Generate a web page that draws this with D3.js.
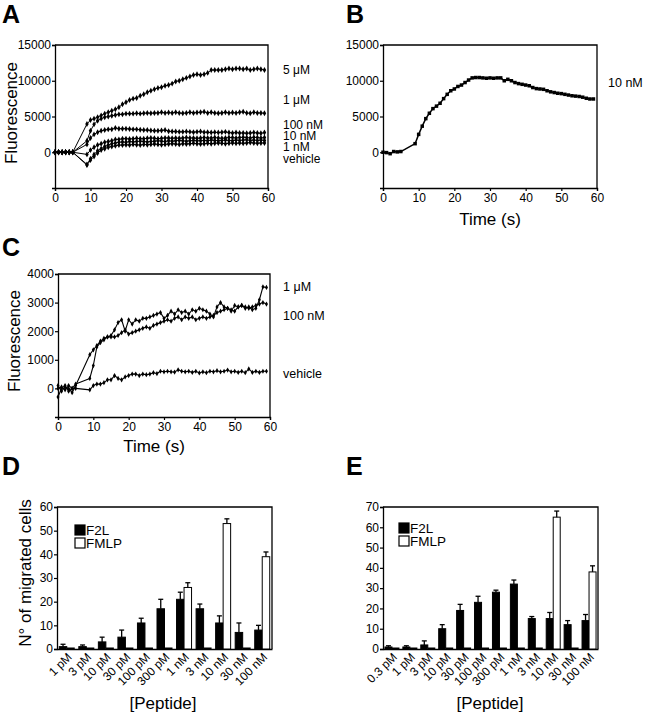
<!DOCTYPE html>
<html><head><meta charset="utf-8">
<script src="https://cdn.jsdelivr.net/npm/d3@7"></script>
<style>
html,body{margin:0;padding:0;background:#fff;}
svg{display:block;font-family:"Liberation Sans",Arial,Helvetica,sans-serif;}
</style></head>
<body>
<svg id="c" width="645" height="719"></svg>
<script>
// ---------- DATA ----------
const timeS = [0,1,2,3,4,5,9,10,11,12,13,14,15,16,17,18,19,20,21,22,23,24,25,26,27,28,29,30,31,32,33,34,35,36,37,38,39,40,41,42,43,44,45,46,47,48,49,50,51,52,53,54,55,56,57,58,59];

// Panel A (fluorescence, several doses)
const A_5uM = [0,0,0,0,0,0,3950,4500,4700,4900,5150,5400,5600,5800,6000,6300,6700,7000,7300,7500,7600,7900,8100,8400,8600,8800,9000,9100,9300,9400,9600,9900,10000,10200,10400,10600,10800,10900,10800,10900,11100,11500,11500,11500,11500,11600,11700,11600,11700,11700,11600,11700,11500,11600,11700,11600,11500];
const A_1uM = [0,0,0,0,0,0,1600,3000,3900,4400,4700,4900,5000,5100,5200,5300,5300,5400,5400,5400,5450,5400,5450,5500,5450,5500,5500,5600,5500,5550,5500,5600,5500,5450,5500,5600,5500,5550,5600,5650,5500,5600,5500,5450,5500,5600,5500,5550,5500,5600,5650,5500,5450,5600,5500,5500,5450];
const A_100nM = [0,0,0,0,0,0,1100,2000,2500,2800,3000,3100,3200,3200,3400,3300,3300,3300,3250,3200,3200,3150,3100,3100,3050,3000,3000,3050,3100,2950,2900,2900,2850,2850,2900,2850,2800,2850,2900,2800,2800,2750,2800,2750,2800,2850,2750,2700,2750,2700,2700,2650,2700,2750,2700,2650,2750];
const A_10nM = [0,0,0,0,0,0,-300,300,700,1000,1200,1400,1500,1600,1800,1800,1900,1900,1850,1900,1950,1900,1900,1950,2000,1950,1900,1950,2000,2000,1950,2000,1950,2000,2050,2000,2000,1950,2000,2050,2000,2000,2050,2000,1950,2000,2050,2050,2000,2050,2100,2050,2000,2100,2050,2000,2050];
const A_1nM = [0,0,0,0,0,0,-1700,-900,-300,200,500,800,1000,1200,1300,1400,1450,1400,1500,1450,1500,1550,1500,1450,1500,1550,1600,1550,1500,1600,1550,1600,1650,1600,1550,1600,1650,1600,1600,1650,1600,1700,1650,1600,1650,1700,1650,1600,1700,1650,1700,1750,1650,1700,1650,1700,1650];
const A_vehicle = [0,0,0,0,0,0,-1800,-1100,-600,-100,300,500,700,800,900,1000,1000,1050,1000,1100,1050,1000,1100,1050,1100,1150,1100,1050,1100,1150,1200,1150,1100,1200,1150,1200,1250,1200,1150,1200,1250,1200,1250,1300,1250,1200,1250,1300,1250,1300,1250,1300,1350,1300,1250,1300,1300];
const A_labels = ["5 μM","1 μM","100 nM","10 nM","1 nM","vehicle"];

// Panel B
const B_10nM = [0,-50,-200,100,50,100,1200,2500,3650,4700,5450,6100,6450,6850,7500,8100,8600,8850,9200,9400,9750,10100,10400,10450,10450,10400,10350,10400,10350,10400,10400,10000,10200,10000,9750,9600,9500,9400,9300,9050,8900,8850,8800,8600,8450,8350,8250,8200,8100,8000,7900,7850,7800,7700,7550,7450,7450];
const B_labels = ["10 nM"];

// Panel C
const C_1uM = [100,-100,50,0,-150,100,1180,1350,1500,1650,1750,1800,1850,2050,2300,2400,2000,2400,2250,2400,2350,2450,2450,2500,2550,2600,2650,2450,2550,2700,2600,2750,2650,2700,2600,2750,2700,2800,2750,2700,2600,2500,2850,3000,2850,2800,2750,2700,2850,2900,2800,2850,2750,2800,3100,3550,3530];
const C_100nM = [-300,0,100,-100,0,150,350,800,1450,1600,1700,1800,1800,1800,1850,1950,2050,1900,1950,2000,2050,2100,2150,2100,2200,2250,2300,2350,2400,2350,2450,2500,2400,2500,2450,2500,2400,2450,2500,2450,2500,2550,2650,2700,2750,2800,2700,2900,2850,2900,2850,2800,2850,2900,2950,3000,2950];
const C_vehicle = [0,50,-50,100,0,0,-50,100,150,150,200,300,300,450,350,300,400,450,500,500,450,500,480,500,550,520,600,580,600,580,570,650,600,580,600,560,600,540,580,550,600,580,620,580,600,640,580,600,560,600,550,680,560,600,560,600,600];
const C_labels = ["1 μM","100 nM","vehicle"];

// Panel D (migration)
const D_categories = ["1 pM","3 pM","10 pM","30 pM","100 pM","300 pM","1 nM","3 nM","10 nM","30 nM","100 nM"];
const D_F2L = [1,1,3,5,11,17,21,17,11,7,8];
const D_F2L_err = [1,0.7,2,3,2,4,3,2,3,4,2];
const D_FMLP = [0,0,0,0,0,0,26,0,53,0,39];
const D_FMLP_err = [0,0,0,0,0,0,2,0,2,0,2];

// Panel E (migration)
const E_categories = ["0.3 pM","1 pM","3 pM","10 pM","30 pM","100 pM","300 pM","1 nM","3 nM","10 nM","30 nM","100 nM"];
const E_F2L = [1,1,2,10,19,23,28,32,15,15,12,14];
const E_F2L_err = [0.6,0.6,2,2,3,3,1,2,1,3,2,3];
const E_FMLP = [0,0,0,0,0,0,0,0,0,65,0,38];
const E_FMLP_err = [0,0,0,0,0,0,0,0,0,3,0,3];

const seriesNames = ["F2L","FMLP"];

// ---------- DRAWING ----------
const svg = d3.select("#c");
const FONT_TICK = 12;

function panelLetter(t, x, y){
  svg.append("text").attr("x",x).attr("y",y).text(t)
    .attr("font-size",25).attr("font-weight","bold").attr("fill","#000");
}

function frame(g, x0, x1, y0, y1){
  g.append("path").attr("d",`M${x0},${y0}H${x1}V${y1}`).attr("fill","none")
    .attr("stroke","#000").attr("stroke-width",1.3);
}

function styleAxis(sel){
  sel.selectAll("path.domain").attr("stroke","#000").attr("stroke-width",1.3);
  sel.selectAll(".tick line").attr("stroke","#000").attr("stroke-width",1.2);
  sel.selectAll(".tick text").attr("font-size",FONT_TICK).attr("fill","#000")
    .attr("font-family","'Liberation Sans',Arial,sans-serif");
}

function linePanel(o){
  const g = svg.append("g");
  const x = d3.scaleLinear().domain([0,60]).range([o.x0,o.x1]);
  const y = d3.scaleLinear().domain(o.yDomain).range([o.y1,o.y0]);
  frame(g, o.x0, o.x1, o.y0, o.y1);
  const ya = g.append("g").attr("transform",`translate(${o.x0},0)`)
    .call(d3.axisLeft(y).tickValues(o.yTicks).tickSize(3).tickPadding(1).tickFormat(d3.format("d")));
  styleAxis(ya);
  const xa = g.append("g").attr("transform",`translate(0,${o.y1})`)
    .call(d3.axisBottom(x).tickValues([0,10,20,30,40,50,60]).tickSize(3).tickPadding(2));
  styleAxis(xa);
  const line = d3.line().x((d,i)=>x(timeS[i])).y(d=>y(d));
  o.series.forEach((s)=>{
    g.append("path").datum(s).attr("d",line).attr("fill","none")
      .attr("stroke","#000").attr("stroke-width",o.lw).attr("stroke-linejoin","round");
    const m = g.append("g");
    s.forEach((v,i)=>{
      const cx = x(timeS[i]), cy = y(v);
      if(o.marker==="square"){
        m.append("rect").attr("x",cx-o.ms/2).attr("y",cy-o.ms/2)
          .attr("width",o.ms).attr("height",o.ms).attr("fill","#000");
      } else {
        m.append("path").attr("d",d3.symbol(d3.symbolDiamond, o.ms*o.ms)())
          .attr("transform",`translate(${cx},${cy})`).attr("fill","#000");
      }
    });
  });
  o.labels.forEach((t,i)=>{
    g.append("text").attr("x",o.labX).attr("y",o.labY[i]).text(t)
      .attr("font-size",o.labFs||12.5).attr("dominant-baseline","central").attr("fill","#000");
  });
  if(o.yLabel){
    g.append("text").attr("transform",`translate(${o.yLabX},${o.yLabY}) rotate(-90)`)
      .attr("text-anchor","middle").attr("dominant-baseline","central")
      .attr("font-size",17).text(o.yLabel);
  }
  if(o.xLabel){
    g.append("text").attr("x",o.xLabX).attr("y",o.xLabY).attr("text-anchor","middle")
      .attr("dominant-baseline","central").attr("font-size",17).text(o.xLabel);
  }
}

function barPanel(o){
  const g = svg.append("g");
  const x = d3.scaleBand().domain(o.cats).range([o.x0,o.x1]).paddingInner(0).paddingOuter(0);
  const bw = o.barW;
  const x1 = d3.scaleBand().domain(seriesNames).range([x.bandwidth()/2-bw, x.bandwidth()/2+bw]);
  const y = d3.scaleLinear().domain(o.yDomain).range([o.y1,o.y0]);
  frame(g, o.x0, o.x1, o.y0, o.y1);
  const ya = g.append("g").attr("transform",`translate(${o.x0},0)`)
    .call(d3.axisLeft(y).tickValues(o.yTicks).tickSize(3).tickPadding(1));
  styleAxis(ya);
  const xa = g.append("g").attr("transform",`translate(0,${o.y1})`)
    .call(d3.axisBottom(x).tickSize(0).tickFormat(""));
  styleAxis(xa);
  const groups = [[o.f2l,o.f2lErr,"#000"],[o.fmlp,o.fmlpErr,"#fff"]];
  groups.forEach(([vals,errs,fill],si)=>{
    vals.forEach((v,i)=>{
      const bx = x(o.cats[i]) + x1(seriesNames[si]);
      const top = y(v);
      const h = Math.max(1, y(0)-top);
      g.append("rect").attr("x",bx).attr("y",y(0)-h).attr("width",x1.bandwidth()).attr("height",h)
        .attr("fill",fill).attr("stroke","#000").attr("stroke-width",1);
      if(errs[i]>0){
        const cx = bx + x1.bandwidth()/2;
        const ye = y(v+errs[i]);
        g.append("line").attr("x1",cx).attr("x2",cx).attr("y1",top).attr("y2",ye).attr("stroke","#000").attr("stroke-width",1.3);
        g.append("line").attr("x1",cx-2.5).attr("x2",cx+2.5).attr("y1",ye).attr("y2",ye).attr("stroke","#000").attr("stroke-width",1.3);
      }
    });
  });
  // category labels
  o.cats.forEach(c=>{
    const cx = x(c)+x.bandwidth()/2;
    g.append("text").attr("transform",`translate(${cx+3},${o.y1+6}) rotate(-45)`)
      .attr("text-anchor","end").attr("dominant-baseline","central")
      .attr("font-size",12).text(c);
  });
  // legend
  seriesNames.forEach((n,i)=>{
    g.append("rect").attr("x",o.legX).attr("y",o.legY+i*13).attr("width",10).attr("height",10)
      .attr("fill",i===0?"#000":"#fff").attr("stroke","#000").attr("stroke-width",1.2);
    g.append("text").attr("x",o.legX+11).attr("y",o.legY+i*13+5.5).attr("dominant-baseline","central")
      .attr("font-size",13.5).text(n);
  });
  if(o.yLabel){
    g.append("text").attr("transform",`translate(${o.yLabX},${o.yLabY}) rotate(-90)`)
      .attr("text-anchor","middle").attr("dominant-baseline","central")
      .attr("font-size",17).text(o.yLabel);
  }
  g.append("text").attr("x",o.xLabX).attr("y",o.xLabY).attr("text-anchor","middle")
    .attr("dominant-baseline","central").attr("font-size",17).text("[Peptide]");
}

// Panel A
panelLetter("A",2,23);
linePanel({x0:55,x1:268,y0:45,y1:188,yDomain:[-5000,15000],yTicks:[0,5000,10000,15000],
  series:[A_5uM,A_1uM,A_100nM,A_10nM,A_1nM,A_vehicle],marker:"diamond",ms:3.2,lw:1,
  labels:A_labels,labX:283,labY:[70,100,125,136,147,159],labFs:12,
  yLabel:"Fluorescence",yLabX:11,yLabY:113});

// Panel B
panelLetter("B",346,23);
linePanel({x0:383,x1:597,y0:45,y1:188,yDomain:[-5000,15000],yTicks:[0,5000,10000,15000],
  series:[B_10nM],marker:"square",ms:3.5,lw:1.5,
  labels:B_labels,labX:608,labY:[83],
  xLabel:"Time (s)",xLabX:490,xLabY:219});

// Panel C
panelLetter("C",2,256);
linePanel({x0:58,x1:270,y0:274,y1:417,yDomain:[-1000,4000],yTicks:[0,1000,2000,3000,4000],
  series:[C_1uM,C_100nM,C_vehicle],marker:"diamond",ms:2.8,lw:1.1,
  labels:C_labels,labX:283,labY:[287,316,374],
  yLabel:"Fluorescence",yLabX:14,yLabY:341,
  xLabel:"Time (s)",xLabX:154,xLabY:446});

// Panel D
panelLetter("D",2,475);
barPanel({x0:57,x1:272,y0:507,y1:649,yDomain:[0,60],yTicks:[0,10,20,30,40,50,60],
  cats:D_categories,f2l:D_F2L,f2lErr:D_F2L_err,fmlp:D_FMLP,fmlpErr:D_FMLP_err,barW:7.5,
  legX:75,legY:525,yLabel:"N° of migrated cells",yLabX:25,yLabY:573,xLabX:163,xLabY:703});

// Panel E
panelLetter("E",346,475);
barPanel({x0:383,x1:598,y0:507,y1:649,yDomain:[0,70],yTicks:[0,10,20,30,40,50,60,70],
  cats:E_categories,f2l:E_F2L,f2lErr:E_F2L_err,fmlp:E_FMLP,fmlpErr:E_FMLP_err,barW:7,
  legX:399,legY:523,xLabX:490,xLabY:703});
</script>
</body></html>
